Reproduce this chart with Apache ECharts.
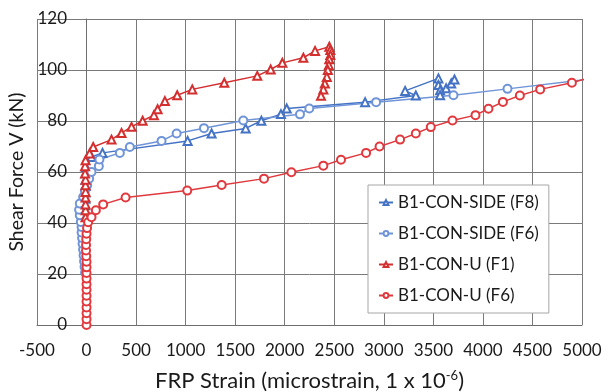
<!DOCTYPE html>
<html>
<head>
<meta charset="utf-8">
<script src="https://cdn.jsdelivr.net/npm/echarts@6/dist/echarts.min.js"></script>
<style>
  html, body { margin: 0; padding: 0; background: #fff; }
  #chart { width: 611px; height: 392px; }
</style>
</head>
<body>
<div id="chart"></div>
<script>
// FRP strain (microstrain) vs shear force V (kN), four gauges
const sideF8Strain = [-15, -15, -15, -12, -12, -10, -10, -8, -5, 50, 161, 1020, 1262, 1606, 1764, 1962, 2020, 2811, 3323, 3215, 3551, 3551, 3568, 3568, 3629, 3680, 3713];
const sideF8Shear  = [42, 44.5, 47, 49.5, 52, 54.5, 57, 59.5, 62, 65.9, 67.5, 72.2, 75.1, 77.1, 80.1, 82.7, 84.9, 87.4, 90, 91.8, 96.7, 94.1, 92.1, 90.1, 92.8, 94.7, 96.3];

const sideF6Strain = [-15, -20, -25, -30, -35, -40, -45, -50, -50, -58, -68, -75, -68, -34, -17, 6, 26, 50, 124, 130, 336, 437, 757, 909, 1185, 1582, 2154, 2248, 2922, 3703, 4248, 5400];
const sideF6Shear  = [20.5, 22.8, 25, 27.3, 29.6, 31.9, 34.1, 36.3, 38.4, 40.4, 43, 45.2, 47.6, 50.2, 52.6, 54.8, 57.4, 60, 62.3, 64.9, 67.5, 69.8, 72.2, 75.1, 77.2, 80.2, 82.6, 84.9, 87.4, 90.1, 92.6, 97.9];

const uF1Strain = [-10, -10, -10, -10, -10, -10, -10, -15, -15, -10, 30, 67, 252, 353, 454, 566, 680, 717, 791, 915, 1067, 1390, 1723, 1858, 1976, 2188, 2306, 2450, 2460, 2460, 2450, 2445, 2435, 2425, 2405, 2390, 2366];
const uF1Shear  = [42.3, 45, 47.3, 50, 52.2, 54.8, 57, 59.4, 62.3, 64.6, 67.3, 69.8, 72.7, 75.3, 77.7, 80.1, 82.3, 84.6, 87.8, 90.1, 92.4, 95, 97.7, 100.2, 102.8, 104.8, 107.5, 109.1, 107.8, 105.9, 104.2, 101.9, 100, 97.3, 94.7, 92.4, 89.9];

const uF6Strain = [0, 0, 0, 0, 0, 0, 0, 0, 0, 0, 0, 0, -3, -5, -5, -3, 0, 5, 16, 50, 94, 168, 394, 1016, 1364, 1791, 2067, 2390, 2568, 2821, 2957, 3164, 3323, 3474, 3693, 3925, 4056, 4202, 4373, 4578, 4898, 5200];
const uF6Shear  = [0, 2.3, 4.6, 6.9, 9.2, 11.5, 13.8, 16, 18.2, 20.4, 22.6, 24.8, 27, 29.2, 31.4, 33.6, 35.8, 38, 40.3, 42.3, 45, 47.3, 50, 52.7, 54.9, 57.4, 59.9, 62.5, 64.8, 67.5, 70, 72.7, 75.1, 77.6, 80.2, 82.3, 84.8, 87.5, 90, 92.4, 95, 98.3];

const seriesNames = ['B1-CON-SIDE (F8)', 'B1-CON-SIDE (F6)', 'B1-CON-U (F1)', 'B1-CON-U (F6)'];

const pairs = (xs, ys) => xs.map((x, i) => [x, ys[i]]);
const FONT = 'Lato';
const INK = '#1a1a1a';

function curve(name, xs, ys, color, symbol) {
  return {
    name: name,
    type: 'line',
    data: pairs(xs, ys),
    symbol: symbol,
    symbolSize: 8,
    showAllSymbol: true,
    clip: true,
    lineStyle: { color: color, width: 1.5 },
    itemStyle: { color: color, borderColor: color, borderWidth: 1 },
    animation: false
  };
}

const chart = echarts.init(document.getElementById('chart'), null, { renderer: 'canvas' });
chart.setOption({
  backgroundColor: '#ffffff',
  textStyle: { fontFamily: FONT },
  grid: { left: 37, right: 29, top: 19, bottom: 67, outerBoundsMode: 'none', containLabel: false },
  legend: {
    orient: 'vertical',
    left: 368,
    top: 185,
    data: seriesNames,
    backgroundColor: '#ffffff',
    borderColor: '#a6a6a6',
    borderWidth: 1,
    padding: [9, 10, 9, 10],
    itemGap: 14,
    itemWidth: 14,
    itemHeight: 6,
    textStyle: { fontFamily: FONT, fontSize: 17, color: INK }
  },
  xAxis: {
    type: 'value',
    min: -500,
    max: 5000,
    interval: 500,
    name: '{a|FRP Strain (microstrain, 1 x 10}{s|-6}{a|)}',
    nameLocation: 'middle',
    nameGap: 44,
    nameTextStyle: {
      rich: {
        a: { fontFamily: FONT, fontSize: 22, color: INK },
        s: { fontFamily: FONT, fontSize: 13, color: INK, padding: [0, 0, 11, 0] }
      }
    },
    axisLine: { show: true, onZero: false, lineStyle: { color: '#6e6e6e', width: 1 } },
    axisTick: { show: false },
    splitLine: { show: true, lineStyle: { color: '#7a7a7a', width: 1 } },
    axisLabel: { fontFamily: FONT, fontSize: 17, color: INK, margin: 17, formatter: v => String(v) }
  },
  yAxis: {
    type: 'value',
    min: 0,
    max: 120,
    interval: 20,
    name: 'Shear Force V (kN)',
    nameLocation: 'middle',
    nameGap: 1,
    nameTextStyle: { fontFamily: FONT, fontSize: 19.5, color: INK },
    axisLine: { show: true, lineStyle: { color: '#6e6e6e', width: 1 } },
    axisTick: { show: false },
    splitLine: { show: true, lineStyle: { color: '#7a7a7a', width: 1 } },
    axisLabel: { fontFamily: FONT, fontSize: 17, color: INK, margin: -30 }
  },
  series: [
    curve(seriesNames[0], sideF8Strain, sideF8Shear, '#4472c4', 'emptyTriangle'),
    curve(seriesNames[1], sideF6Strain, sideF6Shear, '#6f95d8', 'emptyCircle'),
    curve(seriesNames[2], uF1Strain, uF1Shear, '#d32f2f', 'emptyTriangle'),
    curve(seriesNames[3], uF6Strain, uF6Shear, '#e0393e', 'emptyCircle')
  ]
});
</script>
</body>
</html>
